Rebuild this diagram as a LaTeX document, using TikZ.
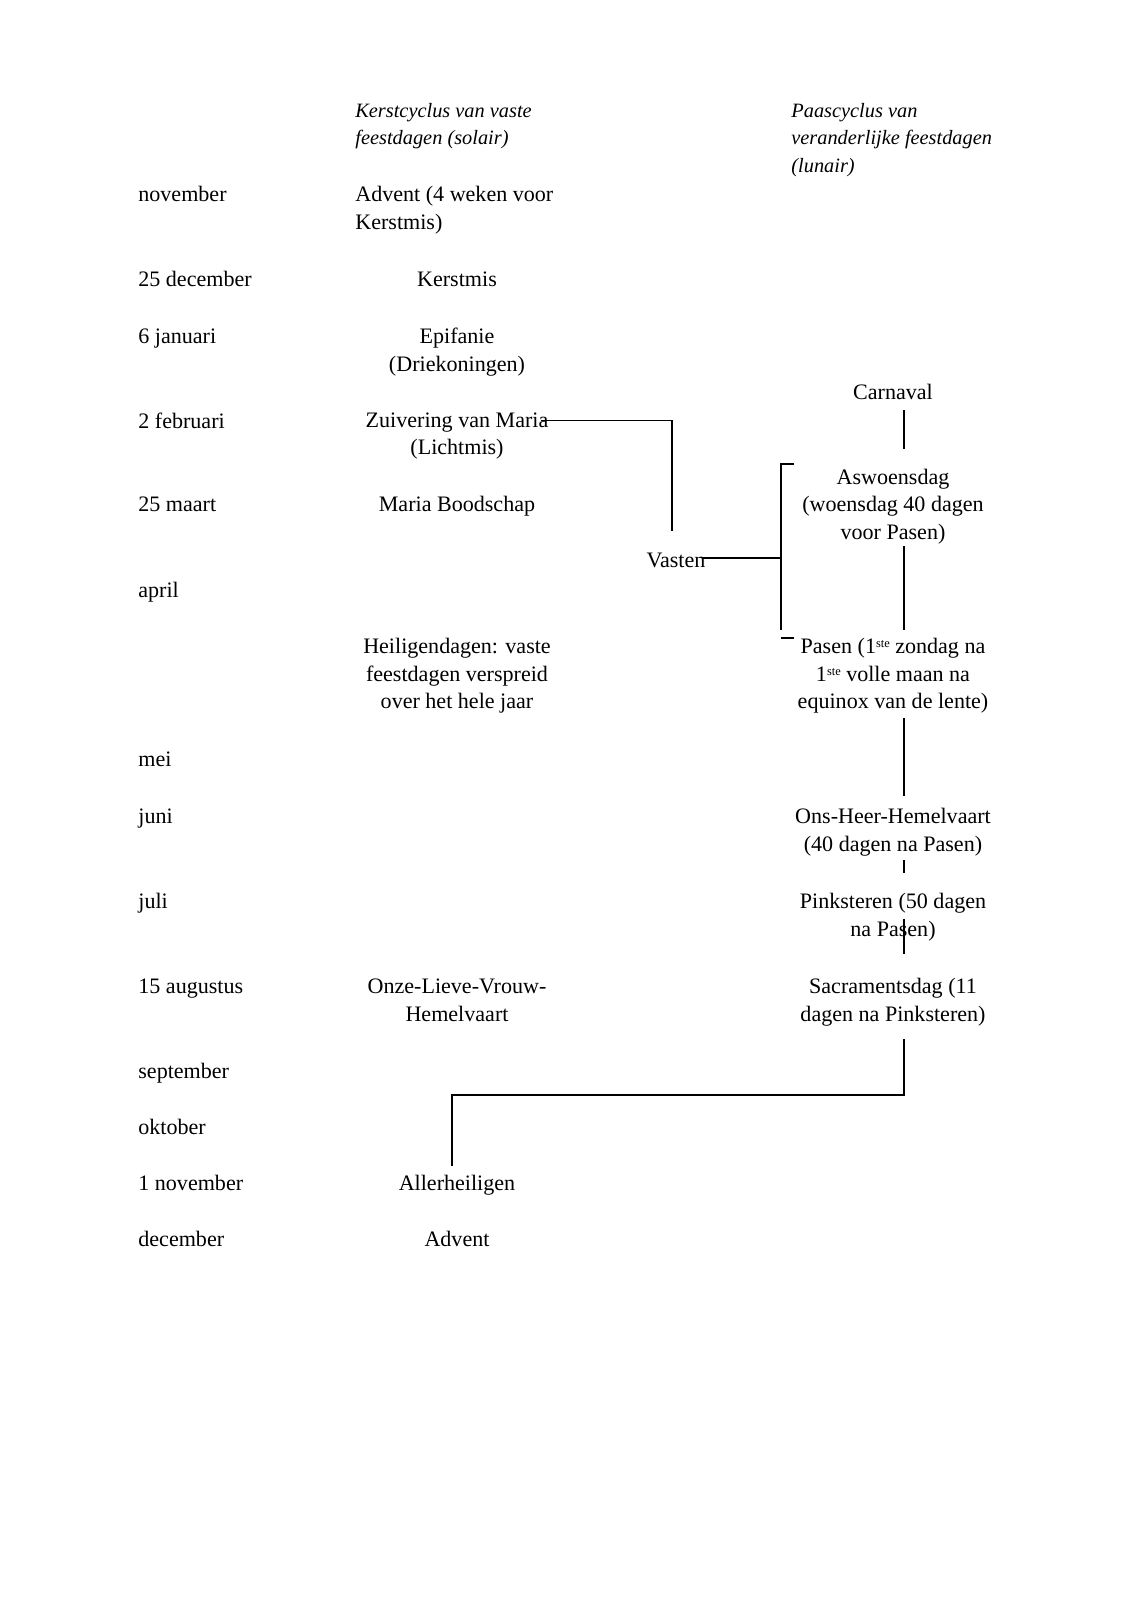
\documentclass[tikz,border=0pt]{standalone}
\usepackage{fontspec}
\setmainfont{Liberation Serif}
\usetikzlibrary{calc}
\newcommand{\stesup}{\raisebox{0.6ex}{\fontsize{6.5}{7}\selectfont ste}}
\begin{document}
\begin{tikzpicture}[x=0.5257pt,y=-0.5257pt,
  txt/.style={inner sep=0pt, font=\fontsize{11.6}{14.5}\selectfont, align=center},
  btxt/.style={txt, anchor=base},
  ltxt/.style={txt, anchor=base west, align=left},
  mltxt/.style={txt, anchor=west, align=left},
  hdr/.style={mltxt, font=\fontsize{10.7}{14.5}\selectfont\itshape},
  conn/.style={line width=0.7pt}]
\useasboundingbox (0,0) rectangle (1132,1600);
% month column (baselines)
\node[ltxt] (m1) at (138,201.5) {november};
\node[ltxt] (m2) at (138,286.5) {25 december};
\node[ltxt] (m3) at (138,343.5) {6 januari};
\node[ltxt] (m4) at (138,428) {2 februari};
\node[ltxt] (m5) at (138,511.5) {25 maart};
\node[ltxt] (m6) at (138,597.5) {april};
\node[ltxt] (m7) at (138,766.5) {mei};
\node[ltxt] (m8) at (138,823) {juni};
\node[ltxt] (m9) at (138,908.5) {juli};
\node[ltxt] (m10) at (138,993.5) {15 augustus};
\node[ltxt] (m11) at (138,1078.5) {september};
\node[ltxt] (m12) at (138,1134.5) {oktober};
\node[ltxt] (m13) at (138,1190.5) {1 november};
\node[ltxt] (m14) at (138,1246.5) {december};
% headers
\node[hdr] (hk) at (355,126) {Kerstcyclus van vaste\\feestdagen (solair)};
\node[hdr] (hp) at (791,140) {Paascyclus van\\veranderlijke feestdagen\\(lunair)};
% middle column
\node[mltxt] (advent1) at (355,210) {Advent (4 weken voor\\Kerstmis)};
\node[btxt] (kerst) at (457,286.5) {Kerstmis};
\node[txt] (epi) at (457,352) {Epifanie\\(Driekoningen)};
\node[txt] (zuiv) at (457,436) {Zuivering van Maria\\(Lichtmis)};
\node[btxt] (boods) at (457,511.5) {Maria Boodschap};
\node[txt] (heil) at (457,676) {Heiligendagen: vaste\\feestdagen verspreid\\over het hele jaar};
\node[txt] (olv) at (457,1000) {Onze-Lieve-Vrouw-\\Hemelvaart};
\node[btxt] (allh) at (457,1190.5) {Allerheiligen};
\node[btxt] (advent2) at (457,1246.5) {Advent};
% Vasten
\node[btxt] (vasten) at (676,567.5) {Vasten};
% right column
\node[btxt] (carn) at (893,399.5) {Carnaval};
\node[txt] (aswo) at (893,506.5) {Aswoensdag\\(woensdag 40 dagen\\voor Pasen)};
\node[txt] (pasen) at (893,676) {Pasen (1\stesup{} zondag na\\1\stesup{} volle maan na\\equinox van de lente)};
\node[txt] (ons) at (893,832) {Ons-Heer-Hemelvaart\\(40 dagen na Pasen)};
\node[txt] (pinks) at (893,917) {Pinksteren (50 dagen\\na Pasen)};
\node[txt] (sacr) at (893,1002) {Sacramentsdag (11\\dagen na Pinksteren)};
% helper coordinates
\coordinate (vx) at (904,0);
\coordinate (zx) at (672,0);
\coordinate (brtop) at (781,464);
\coordinate (brbot) at (781,630);
\coordinate (brlow) at (781,638);
\coordinate (ax) at (452,0);
\coordinate (zstart) at (541,420.5);
\coordinate (vstart) at (702,558);
% connectors
\draw[conn] (zstart) -- (zstart -| zx) -- (zx |- 0,531);
\draw[conn] (vstart) -- (vstart -| brtop);
\draw[conn] ($(brtop)+(13,0)$) -- (brtop) -- (brbot);
\draw[conn] (brlow) -- ++(13,0);
\draw[conn] (vx |- 0,410) -- (vx |- 0,449);
\draw[conn] (vx |- 0,546) -- (vx |- 0,630);
\draw[conn] (vx |- 0,718) -- (vx |- 0,796);
\draw[conn] (vx |- 0,860) -- (vx |- 0,873);
\draw[conn] (vx |- 0,919) -- (vx |- 0,954);
\draw[conn] (vx |- 0,1039) -- (vx |- 0,1095) -- (ax |- 0,1095) -- (ax |- 0,1166);
\end{tikzpicture}
\end{document}
